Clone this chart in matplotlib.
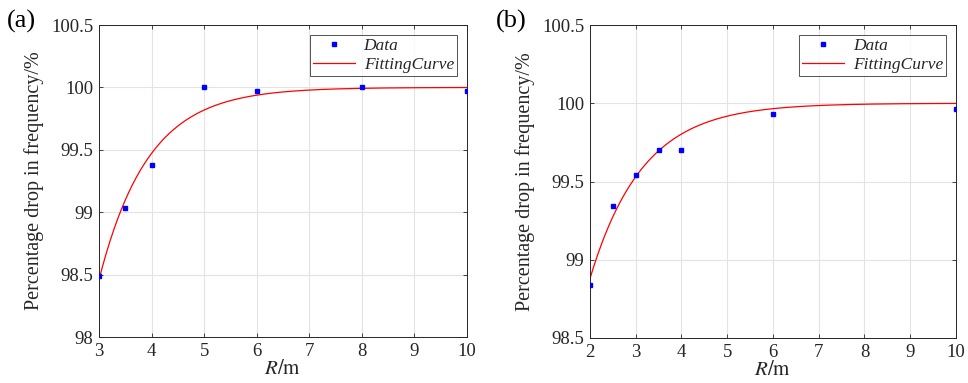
import numpy as np
import matplotlib
matplotlib.use("Agg")
import matplotlib.pyplot as plt

plt.rcParams['font.family'] = ['Liberation Serif', 'DejaVu Serif']
plt.rcParams['mathtext.fontset'] = 'stix'

# Panel (a) data
xa = [3, 3.5, 4, 5, 6, 8, 10]
ya = [98.49, 99.03, 99.38, 100.0, 99.975, 100.0, 99.975]
# fitted model parameters y = 100 - A*exp(-k*(x - x0))
fit_a = dict(A=1.54, k=1.07, x0=3)

# Panel (b) data
xb = [2, 2.5, 3, 3.5, 4, 6, 10]
yb = [98.836, 99.345, 99.54, 99.704, 99.704, 99.934, 99.966]
fit_b = dict(A=1.12, k=0.87, x0=2)

xticks_a = [3, 4, 5, 6, 7, 8, 9, 10]
yticks_a = [98, 98.5, 99, 99.5, 100, 100.5]
xticks_b = [2, 3, 4, 5, 6, 7, 8, 9, 10]
yticks_b = [98.5, 99, 99.5, 100, 100.5]

txt = '#262626'
fig = plt.figure(figsize=(9.68, 3.83), dpi=100)
axa = fig.add_axes([0.1023, 0.1201, 0.3801, 0.8146])
axb = fig.add_axes([0.6095, 0.1175, 0.3781, 0.8172])

def draw(ax, x, y, fit, xlim, ylim, xt, yt, ytl):
    xs = np.linspace(xlim[0], xlim[1], 300)
    ys = 100 - fit['A'] * np.exp(-fit['k'] * (xs - fit['x0']))
    ax.plot(x, y, 's', color='#0000ff', markersize=2.3, label='Data', zorder=3)
    ax.plot(xs, ys, '-', color='#ff0000', lw=0.9, label='FittingCurve', zorder=2)
    ax.set_xlim(xlim)
    ax.set_ylim(ylim)
    ax.set_xticks(xt)
    ax.set_yticks(yt)
    ax.set_yticklabels(ytl)
    ax.grid(True, color='#e3e3e3', lw=0.8)
    ax.set_axisbelow(True)
    ax.tick_params(direction='in', length=3, width=0.6, colors=txt, labelsize=13.5,
                   top=True, right=True, pad=4)
    for s in ax.spines.values():
        s.set_color('#262626')
        s.set_linewidth(0.7)
    ax.set_xlabel(r'$R/\mathrm{m}$', fontsize=15, color=txt, labelpad=0)
    ax.set_ylabel('Percentage drop in frequency/%', fontsize=14.5, color=txt, labelpad=5)
    leg = ax.legend(loc='upper right', prop={'family': 'Liberation Serif', 'style': 'italic', 'size': 12.5},
                    frameon=True, fancybox=False, edgecolor='#262626', handlelength=2.4,
                    borderpad=0.2, labelspacing=0.15, handletextpad=0.5,
                    borderaxespad=0.55, markerscale=1.0)
    leg.get_frame().set_linewidth(0.7)
    for t in leg.get_texts():
        t.set_color(txt)
    return ax

draw(axa, xa, ya, fit_a, (3, 10), (98, 100.5), xticks_a, yticks_a,
     ['98', '98.5', '99', '99.5', '100', '100.5'])
draw(axb, xb, yb, fit_b, (2, 10), (98.5, 100.5), xticks_b, yticks_b,
     ['98.5', '99', '99.5', '100', '100.5'])

fig.text(7/968, 1 - 21/383, '(a)', fontsize=19, color='black', va='center', ha='left')
fig.text(496/968, 1 - 21/383, '(b)', fontsize=19, color='black', va='center', ha='left')

fig.savefig('out.png', dpi=100)
